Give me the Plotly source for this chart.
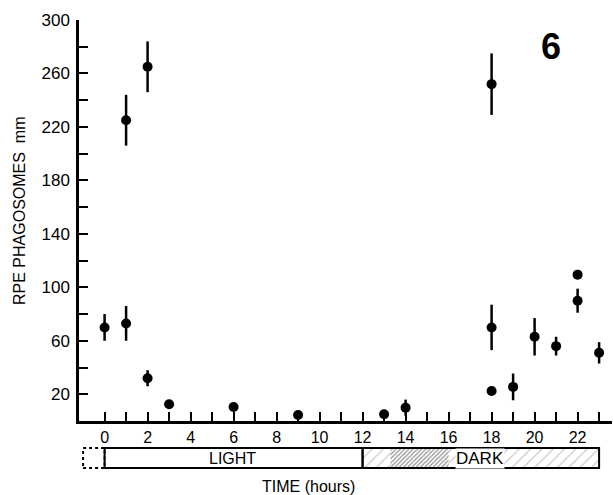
import plotly.graph_objects as go

# ---- data ----
hours = [0, 1, 1, 2, 2, 3, 6, 9, 13, 14, 18, 18, 18, 19, 20, 21, 22, 22, 23]
phagosomes = [70, 73, 225, 32, 265, 12.5, 10.5, 4.5, 5, 10, 22.5, 70, 252, 25.5, 63, 56, 109.5, 90, 51]
errors = [10, 13, 19, 6, 19, 2, 2, 2, 2, 6, 3, 17, 23, 10, 14, 7, 3, 9, 8]

x_tick_vals = list(range(0, 24))
x_tick_text = [str(h) if h % 2 == 0 else "" for h in x_tick_vals]
y_tick_vals = list(range(20, 301, 20))
y_tick_text = [str(v) if (v - 20) % 40 == 0 else "" for v in y_tick_vals]

# light/dark schedule bar (hours)
pre_period = [-1, 0]
light_period = [0, 12]
dark_period = [12, 23]
dense_hatch = [13.3, 16.0]

FONT = "Liberation Sans"
BAR_Y0, BAR_Y1 = 0.0044, 0.0489

fig = go.Figure()

# schedule bar hatching (on secondary y axis)
fig.add_trace(go.Bar(
    y=[0], x=[dark_period[1] - dark_period[0]], base=[dark_period[0]],
    orientation="h", width=1, xaxis="x", yaxis="y2", showlegend=False,
    marker=dict(color="white", line=dict(width=0),
                pattern=dict(shape="/", fgcolor="#777", bgcolor="white", size=8, solidity=0.12)),
    hoverinfo="skip"))
fig.add_trace(go.Bar(
    y=[0], x=[dense_hatch[1] - dense_hatch[0]], base=[dense_hatch[0]],
    orientation="h", width=1, xaxis="x", yaxis="y2", showlegend=False,
    marker=dict(color="white", line=dict(width=0),
                pattern=dict(shape="/", fgcolor="#222", bgcolor="white", size=3, solidity=0.4)),
    hoverinfo="skip"))

# data points
fig.add_trace(go.Scatter(
    x=hours, y=phagosomes, mode="markers", showlegend=False,
    marker=dict(color="black", size=10),
    error_y=dict(type="data", array=errors, visible=True, color="black", thickness=2.5, width=0)))

shapes = []
for (a, b), dash in [(pre_period, "dot"), (light_period, "solid"), (dark_period, "solid")]:
    shapes.append(dict(type="rect", xref="x", yref="paper", x0=a, x1=b, y0=BAR_Y0, y1=BAR_Y1,
                       line=dict(color="black", width=2, dash=dash), fillcolor="rgba(0,0,0,0)"))

bar_mid = (BAR_Y0 + BAR_Y1) / 2
annotations = [
    dict(text="RPE PHAGOSOMES  mm", xref="paper", yref="paper", x=(20 - 79) / 533, y=(470 - 211) / 450,
         xanchor="center", yanchor="middle",
         textangle=-90, showarrow=False, font=dict(family=FONT, size=16, color="black")),
    dict(text="TIME (hours)", xref="paper", yref="paper", x=(308 - 79) / 533, y=(470 - 486) / 450,
         xanchor="center", yanchor="middle",
         showarrow=False, font=dict(family=FONT, size=16, color="black")),
    dict(text="LIGHT", xref="x", yref="paper", x=5.93, y=bar_mid,
         xanchor="center", yanchor="middle",
         showarrow=False, font=dict(family=FONT, size=16, color="black")),
    dict(text="DARK", xref="x", yref="paper", x=17.44, y=bar_mid,
         xanchor="center", yanchor="middle",
         showarrow=False, bgcolor="white", borderpad=0,
         font=dict(family=FONT, size=17, color="black")),
    dict(text="<b>6</b>", xref="paper", yref="paper", x=(551 - 79) / 533, y=(470 - 46) / 450,
         xanchor="center", yanchor="middle",
         showarrow=False, font=dict(family=FONT, size=36, color="black")),
]

fig.update_layout(
    width=613, height=495,
    margin=dict(l=79, r=1, t=20, b=25),
    paper_bgcolor="white", plot_bgcolor="white",
    font=dict(family=FONT, color="black"),
    showlegend=False,
    barmode="overlay",
    xaxis=dict(range=[-1.19, 23.6], showgrid=False, zeroline=False,
               showline=True, linecolor="black", linewidth=2.5,
               ticks="inside", ticklen=9, tickwidth=2, tickcolor="black",
               tickvals=x_tick_vals, ticktext=x_tick_text,
               tickfont=dict(family=FONT, size=16), anchor="y", ticklabelstandoff=0),
    yaxis=dict(range=[0, 300], domain=[0.1089, 1], showgrid=False, zeroline=False,
               showline=True, linecolor="black", linewidth=2.5,
               ticks="inside", ticklen=9, tickwidth=2, tickcolor="black",
               tickvals=y_tick_vals, ticktext=y_tick_text,
               tickfont=dict(family=FONT, size=17), ticklabelstandoff=3),
    yaxis2=dict(domain=[BAR_Y0, BAR_Y1], range=[-0.5, 0.5], showgrid=False, zeroline=False,
                showline=False, showticklabels=False, ticks="", anchor="x"),
    shapes=shapes,
    annotations=annotations,
)

fig.write_html("out.html", config={"displayModeBar": False},
               post_script="document.body.style.margin='0';document.body.style.padding='0';")
